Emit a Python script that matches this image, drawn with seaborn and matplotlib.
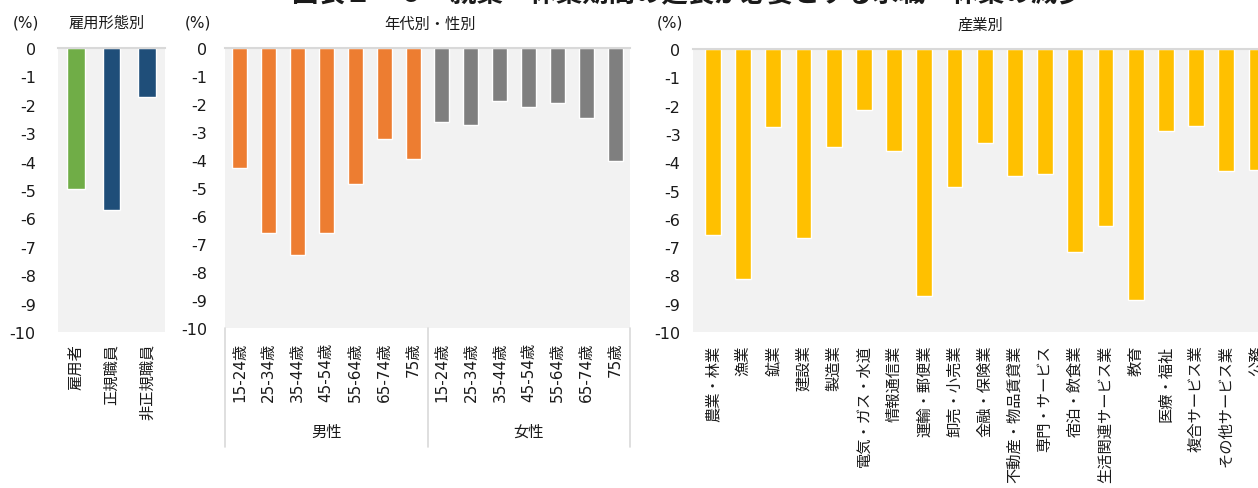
import matplotlib
matplotlib.use("Agg")
import matplotlib.pyplot as plt
import seaborn as sns
import pandas as pd

# ---------------- data ----------------
title_text = "図表１－６　就業・休業期間の延長が必要とする求職・休業の減少"

emp_labels = ["雇用者", "正規職員", "非正規職員"]
emp_values = [-4.96, -5.70, -1.72]
emp_colors = ["#70AD47", "#1F4E79", "#1F4E79"]

age_labels = ["15-24歳", "25-34歳", "35-44歳", "45-54歳", "55-64歳", "65-74歳", "75歳"]
sex_labels = ["男性", "女性"]
male_values = [-4.29, -6.62, -7.39, -6.62, -4.86, -3.25, -3.97]
female_values = [-2.63, -2.75, -1.88, -2.10, -1.95, -2.49, -4.05]
sex_colors = ["#ED7D31", "#7F7F7F"]

ind_labels = ["農業・林業", "漁業", "鉱業", "建設業", "製造業", "電気・ガス・水道",
              "情報通信業", "運輸・郵便業", "卸売・小売業", "金融・保険業",
              "不動産・物品賃貸業", "専門・サービス", "宿泊・飲食業",
              "生活関連サービス業", "教育", "医療・福祉", "複合サービス業",
              "その他サービス業", "公務"]
ind_values = [-6.58, -8.12, -2.75, -6.67, -3.46, -2.14, -3.60, -8.74, -4.87,
              -3.32, -4.49, -4.40, -7.18, -6.24, -8.88, -2.89, -2.72, -4.31, -4.26]
ind_color = "#FFC000"

y_ticks = list(range(0, -11, -1))

# ---------------- style ----------------
sns.set_style("white")
plt.rcParams["font.family"] = ["DejaVu Sans", "Noto Sans CJK JP"]
TXT = "#1a1a1a"
BG = "#F2F2F2"
LINE = "#D9D9D9"

W, H, DPI = 1258, 489, 100
fig = plt.figure(figsize=(W / DPI, H / DPI), dpi=DPI)


def rect(l, r, t, b):
    return [l / W, 1 - b / H, (r - l) / W, (b - t) / H]


def style_ax(ax, ypad, xpad):
    ax.set_facecolor(BG)
    for s in ["left", "right", "bottom"]:
        ax.spines[s].set_visible(False)
    ax.spines["top"].set_visible(True)
    ax.spines["top"].set_color(LINE)
    ax.spines["top"].set_linewidth(1.5)
    ax.set_ylim(-10, 0)
    ax.set_yticks(y_ticks)
    ax.set_yticklabels([str(v) for v in y_ticks])
    ax.tick_params(axis="y", length=0, pad=ypad, labelsize=11.5, labelcolor=TXT)
    ax.tick_params(axis="x", length=0, pad=xpad, labelsize=11, labelcolor=TXT,
                   labelrotation=90)
    ax.set_xlabel("")
    ax.set_ylabel("")


# ---- panel 1 ----
ax1 = fig.add_axes(rect(58, 165, 49, 333))
df1 = pd.DataFrame({"cat": emp_labels, "val": emp_values})
sns.barplot(data=df1, x="cat", y="val", hue="cat", palette=emp_colors,
            width=0.5, legend=False, ax=ax1, saturation=1)
style_ax(ax1, 16, 8)
ax1.set_xlim(-0.5, len(emp_labels) - 0.5)

# ---- panel 2 ----
ax2 = fig.add_axes(rect(225, 630, 49, 329))
rows = []
for sx, vals in zip(sex_labels, [male_values, female_values]):
    for a, v in zip(age_labels, vals):
        rows.append({"key": sx + "|" + a, "sex": sx, "age": a, "val": v})
df2 = pd.DataFrame(rows)
sns.barplot(data=df2, x="key", y="val", hue="sex", palette=sex_colors,
            dodge=False, width=0.52, legend=False, ax=ax2, saturation=1,
            order=list(df2["key"]))
style_ax(ax2, 13, 10)
n2 = len(df2)
ax2.set_xlim(-0.5, n2 - 0.5)
ax2.set_xticks(range(n2))
ax2.set_xticklabels(list(df2["age"]))
tr = ax2.get_xaxis_transform()
ng = len(age_labels)
for i in range(len(sex_labels) + 1):
    xb = i * ng - 0.5
    ax2.plot([xb, xb], [0, -0.425], transform=tr, color=LINE, lw=1.2,
             clip_on=False)
for i, sx in enumerate(sex_labels):
    ax2.text(i * ng + (ng - 1) / 2, -0.37, sx, transform=tr, ha="center",
             va="center", fontsize=11, color=TXT)

# ---- panel 3 ----
ax3 = fig.add_axes(rect(693, 1258, 50, 333))
df3 = pd.DataFrame({"cat": ind_labels, "val": ind_values})
sns.barplot(data=df3, x="cat", y="val", color=ind_color, width=0.52, ax=ax3,
            saturation=1)
style_ax(ax3, 9, 9)
ax3.set_xlim(-0.66, len(ind_labels) - 0.95)

# ---- texts ----
def ftext(x, y, s, **kw):
    fig.text(x / W, 1 - y / H, s, ha="center", va="center", fontsize=11,
             color=TXT, **kw)

ftext(26, 23, "(%)")
ftext(107, 23, "雇用形態別")
ftext(198, 23, "(%)")
ftext(430, 24, "年代別・性別")
ftext(670, 23, "(%)")
ftext(980, 25, "産業別")

fig.text(688 / W, 1 - 1 / H, title_text, ha="center", va="baseline",
         fontsize=19, fontweight="bold", color=TXT)

fig.savefig("out.png", dpi=DPI, facecolor="white")
